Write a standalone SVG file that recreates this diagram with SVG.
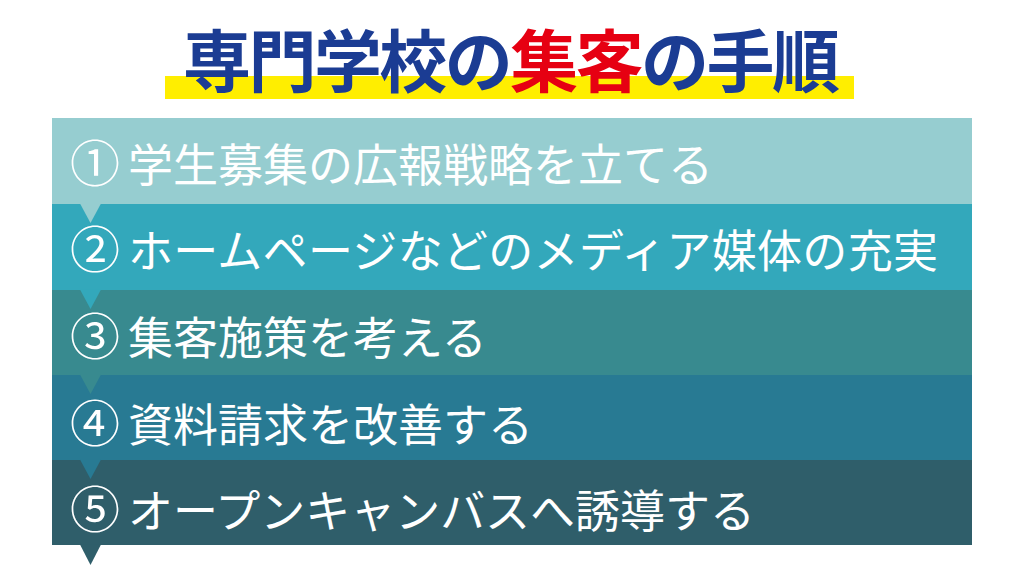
<svg xmlns="http://www.w3.org/2000/svg" width="1024" height="576" viewBox="0 0 1024 576">
<style>
.title{font-family:"Noto Sans CJK JP","Noto Sans CJK SC",sans-serif;font-weight:700;font-size:68px;fill:#1B3C93}
.red{fill:#E60012}
.step{font-family:"Noto Sans CJK JP","Noto Sans CJK SC",sans-serif;font-weight:400;font-size:45px;fill:#FFFFFF}
.num{font-family:"Noto Sans CJK JP","Noto Sans CJK SC",sans-serif;font-weight:400;font-size:50px;fill:#FFFFFF;text-anchor:middle}
</style>
<rect width="1024" height="576" fill="#FFFFFF"/>
<g id="title">
<rect x="165" y="76" width="689" height="23" fill="#FFEE00"/>
<text class="title" x="183" y="87" textLength="657" lengthAdjust="spacing">専門学校の<tspan class="red">集客</tspan>の手順</text>
</g>
<g id="step5">
<rect x="52" y="460" width="920" height="85" fill="#2F5E6A"/>
<text class="num" x="95" y="528">⑤</text>
<text class="step" x="128" y="528" textLength="627" lengthAdjust="spacing">オープンキャンバスへ誘導する</text>
</g>
<g id="step4">
<rect x="52" y="375" width="920" height="85" fill="#287A93"/>
<text class="num" x="95" y="441.5">④</text>
<text class="step" x="128" y="441.5">資料請求を改善する</text>
</g>
<g id="step3">
<rect x="52" y="290" width="920" height="85" fill="#388A8F"/>
<text class="num" x="95" y="355">③</text>
<text class="step" x="128" y="355">集客施策を考える</text>
</g>
<g id="step2">
<rect x="52" y="204" width="920" height="86" fill="#33A8BB"/>
<text class="num" x="95" y="268">②</text>
<text class="step" x="128" y="268" textLength="810" lengthAdjust="spacing">ホームページなどのメディア媒体の充実</text>
</g>
<g id="step1">
<rect x="52" y="118" width="920" height="86" fill="#96CDD0"/>
<text class="num" x="95" y="181.5">①</text>
<text class="step" x="128" y="181.5">学生募集の広報戦略を立てる</text>
</g>
<g id="connectors">
<polygon points="80,203.5 101,203.5 90.5,223" fill="#96CDD0"/>
<polygon points="80,289.5 101,289.5 90.5,309" fill="#33A8BB"/>
<polygon points="80,374.5 101,374.5 90.5,394" fill="#388A8F"/>
<polygon points="80,459.5 101,459.5 90.5,479" fill="#287A93"/>
<polygon points="80,544.5 101,544.5 90.5,565" fill="#2F5E6A"/>
</g>
</svg>
